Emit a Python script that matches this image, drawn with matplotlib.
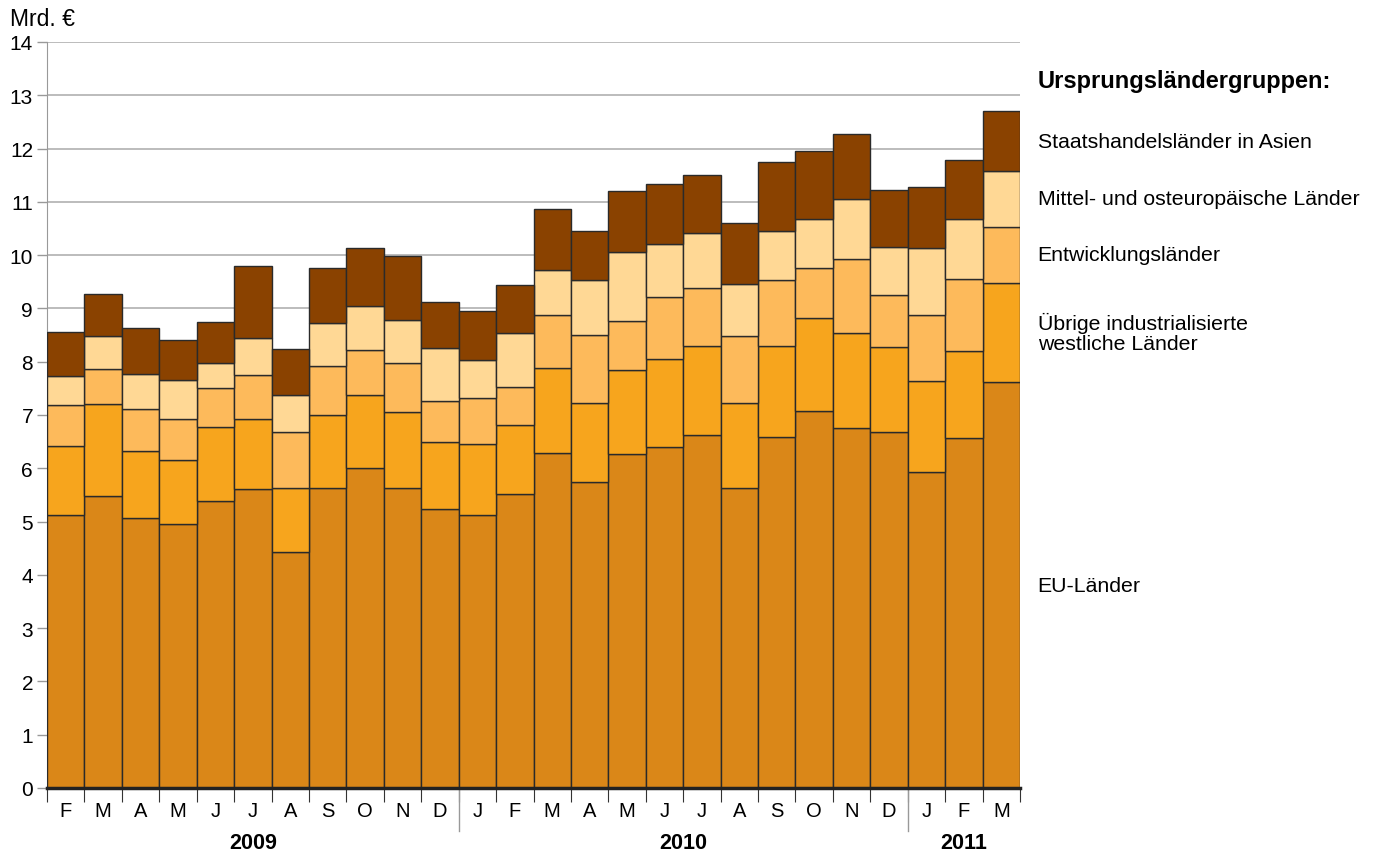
import matplotlib
matplotlib.use("Agg")
import matplotlib.pyplot as plt
import numpy as np

plt.rcParams['font.family'] = ['Liberation Sans', 'DejaVu Sans']

months = ["F", "M", "A", "M", "J", "J", "A", "S", "O", "N", "D",
          "J", "F", "M", "A", "M", "J", "J", "A", "S", "O", "N", "D",
          "J", "F", "M"]
years = ["2009", "2010", "2011"]
year_counts = [11, 12, 3]

# cumulative tops (Mrd. EUR)
top_eu = [5.12, 5.48, 5.07, 4.95, 5.38, 5.62, 4.43, 5.63, 6.01, 5.63, 5.24,
          5.12, 5.52, 6.29, 5.75, 6.26, 6.40, 6.63, 5.63, 6.58, 7.07, 6.76, 6.68,
          5.93, 6.57, 7.61]
top_west = [6.42, 7.21, 6.33, 6.15, 6.77, 6.92, 5.63, 7.00, 7.37, 7.05, 6.49,
            6.46, 6.81, 7.89, 7.22, 7.85, 8.06, 8.29, 7.22, 8.29, 8.82, 8.53, 8.28,
            7.64, 8.20, 9.48]
top_dev = [7.19, 7.87, 7.12, 6.93, 7.50, 7.75, 6.68, 7.92, 8.22, 7.98, 7.27,
           7.31, 7.52, 8.88, 8.51, 8.76, 9.22, 9.38, 8.48, 9.53, 9.76, 9.92, 9.26,
           8.88, 9.55, 10.53]
top_cee = [7.74, 8.48, 7.77, 7.65, 7.97, 8.45, 7.37, 8.73, 9.05, 8.78, 8.25,
           8.04, 8.53, 9.73, 9.53, 10.06, 10.20, 10.41, 9.46, 10.46, 10.67, 11.05, 10.16,
           10.13, 10.68, 11.58]
top_total = [8.55, 9.28, 8.63, 8.40, 8.75, 9.80, 8.23, 9.76, 10.13, 9.99, 9.12,
             8.96, 9.44, 10.87, 10.45, 11.20, 11.34, 11.51, 10.61, 11.74, 11.95, 12.27, 11.22,
             11.27, 11.78, 12.70]

labels = ["EU-Länder", "Übrige industrialisierte\nwestliche Länder",
          "Entwicklungsländer", "Mittel- und osteuropäische Länder",
          "Staatshandelsländer in Asien"]
colors = ["#DA8718", "#F7A51D", "#FDBA5B", "#FFD895", "#8A4200"]

tops = np.array([top_eu, top_west, top_dev, top_cee, top_total])
bottoms = np.vstack([np.zeros(len(months)), tops[:-1]])

fig = plt.figure(figsize=(13.83, 8.54), dpi=100)
ax = fig.add_axes([47 / 1383, 65 / 854, 973 / 1383, 746 / 854])

x = np.arange(len(months))
for i in range(len(labels)):
    ax.bar(x, tops[i] - bottoms[i], bottom=bottoms[i], width=1.0,
           color=colors[i], edgecolor="#2a2a2a", linewidth=1.0, zorder=3)

ax.set_xlim(-0.5, len(months) - 0.5)
ax.set_ylim(0, 14)
ax.set_yticks(range(0, 15))
ax.yaxis.grid(True, color="#b0b0b0", linewidth=1.2, zorder=0)
ax.tick_params(axis='y', length=7, color="#999999", width=1.0,
               labelsize=15, pad=3)

for s in ["top", "right"]:
    ax.spines[s].set_visible(False)
ax.spines["left"].set_color("#999999")
ax.spines["bottom"].set_color("#222222")
ax.spines["bottom"].set_linewidth(2.5)
ax.spines["bottom"].set_zorder(4)

ax.set_xticks(np.arange(-0.5, len(months), 1.0))
ax.set_xticklabels([])
ax.tick_params(axis='x', length=10, color="#333333", width=0.8)

for i, m in enumerate(months):
    ax.text(i, -0.42, m, ha="center", va="center", fontsize=14.5)

# year labels and separators
start = 0
for yr, n in zip(years, year_counts):
    ax.text(start + (n - 1) / 2, -1.02, yr, ha="center", va="center",
            fontsize=15.5, fontweight="bold")
    if start > 0:
        ax.plot([start - 0.5, start - 0.5], [0, -0.8], color="#999999",
                linewidth=1.0, clip_on=False)
    start += n

fig.text(10 / 1383, 1 - 20 / 854, "Mrd. €", fontsize=16.5, va="center")

# legend labels next to the last bar segments
lx = len(months) - 0.5 + 0.47
mids = (tops[:, -1] + bottoms[:, -1]) / 2
for lab, m in zip(labels, mids):
    ax.text(lx, m, lab, ha="left", va="center", fontsize=15.3,
            linespacing=1.1, clip_on=False)
ax.text(lx, 13.28, "Ursprungsländergruppen:", ha="left", va="center",
        fontsize=17, fontweight="bold", clip_on=False)

fig.savefig("out.png", dpi=100)
